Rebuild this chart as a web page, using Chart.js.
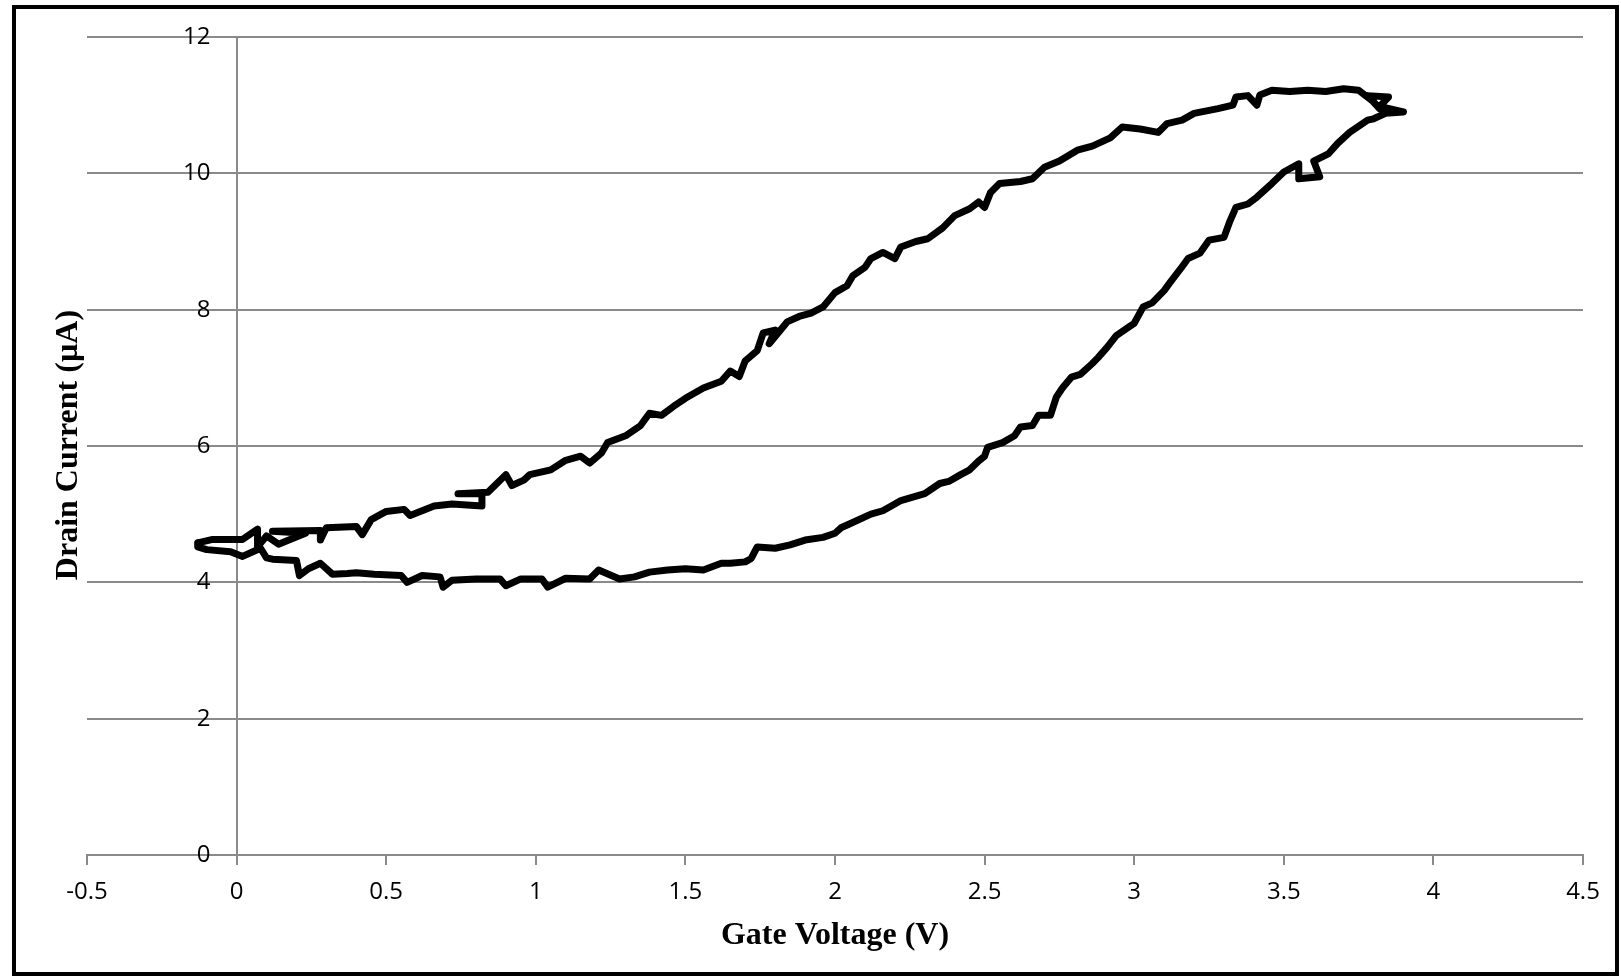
<!DOCTYPE html>
<html>
<head>
<meta charset="utf-8">
<script src="https://cdn.jsdelivr.net/npm/chart.js@4"></script>
<style>
  html, body { margin: 0; padding: 0; background: #fff; }
  #wrap { position: relative; width: 1621px; height: 978px; }
  #frame { position: absolute; left: 12px; top: 5px; width: 1607px; height: 971px; border: 4px solid #000; box-sizing: border-box; pointer-events: none; }
</style>
</head>
<body>
<div id="wrap">
  <canvas id="c" width="1621" height="978"></canvas>
  <div id="frame"></div>
</div>
<script>
// gate voltage sweep (V), going round the loop
const gateV = [
  -0.13, -0.08, 0.02, 0.07, 0.07, 0.10, 0.14, 0.23, 0.12, 0.28, 0.28, 0.30, 0.40, 0.42, 0.45, 0.50,
  0.56, 0.58, 0.62, 0.66, 0.72, 0.82, 0.82, 0.74, 0.84, 0.87, 0.90, 0.92, 0.96, 0.98, 1.05, 1.10, 1.15,
  1.18, 1.22, 1.24, 1.30, 1.35, 1.38, 1.42, 1.46, 1.50, 1.56, 1.62, 1.65, 1.68, 1.70, 1.74, 1.76,
  1.80, 1.78, 1.84, 1.88, 1.92, 1.96, 2.00, 2.04, 2.06, 2.10, 2.12, 2.16, 2.20, 2.22, 2.27,
  2.31, 2.36, 2.40, 2.45, 2.48, 2.50, 2.52, 2.55, 2.62, 2.66, 2.70, 2.75, 2.81, 2.86, 2.92,
  2.96, 3.02, 3.08, 3.11, 3.16, 3.20, 3.28, 3.33, 3.34, 3.38, 3.41, 3.42, 3.46, 3.52, 3.58,
  3.64, 3.70, 3.75, 3.80, 3.82, 3.78, 3.85, 3.82, 3.90, 3.84, 3.80,
  // back down the lower branch
  3.78, 3.72, 3.68, 3.65, 3.60, 3.62, 3.55, 3.55, 3.50, 3.46, 3.41, 3.38, 3.34, 3.32, 3.30,
  3.25, 3.22, 3.18, 3.16, 3.12, 3.10, 3.06, 3.03, 3.00, 2.98, 2.94, 2.91, 2.88, 2.86, 2.82,
  2.79, 2.76, 2.74, 2.72, 2.68, 2.66, 2.62, 2.60, 2.56, 2.51, 2.50, 2.48, 2.45, 2.42, 2.38,
  2.35, 2.30, 2.22, 2.20, 2.16, 2.12, 2.05, 2.02, 2.00, 1.96, 1.90, 1.85, 1.80, 1.74, 1.72,
  1.70, 1.65, 1.62, 1.56, 1.50, 1.44, 1.38, 1.33, 1.28, 1.21, 1.18, 1.10, 1.04, 1.02, 0.95,
  0.90, 0.88, 0.80, 0.72, 0.69, 0.68, 0.62, 0.57, 0.55, 0.46, 0.40, 0.37, 0.32, 0.28, 0.24,
  0.21, 0.20, 0.12, 0.10, 0.08, 0.02, -0.02, -0.10, -0.13, -0.13
];
// drain current (µA) at each point above
const drainI = [
  4.58, 4.63, 4.63, 4.78, 4.52, 4.68, 4.56, 4.72, 4.75, 4.76, 4.62, 4.80, 4.82, 4.70, 4.92, 5.04,
  5.07, 4.98, 5.05, 5.12, 5.15, 5.12, 5.30, 5.30, 5.32, 5.45, 5.58, 5.42, 5.50, 5.58, 5.65, 5.79, 5.85,
  5.75, 5.90, 6.05, 6.15, 6.30, 6.48, 6.45, 6.58, 6.70, 6.85, 6.95, 7.10, 7.02, 7.25, 7.40, 7.66,
  7.70, 7.50, 7.82, 7.90, 7.95, 8.04, 8.25, 8.35, 8.50, 8.62, 8.75, 8.84, 8.75, 8.92, 9.00,
  9.04, 9.20, 9.38, 9.48, 9.58, 9.50, 9.72, 9.85, 9.88, 9.92, 10.09, 10.18, 10.34, 10.40, 10.52,
  10.68, 10.65, 10.60, 10.73, 10.78, 10.88, 10.95, 11.00, 11.12, 11.14, 11.00, 11.15, 11.22, 11.20, 11.22,
  11.20, 11.24, 11.22, 11.05, 10.95, 11.14, 11.12, 10.98, 10.90, 10.88, 10.80,
  10.78, 10.60, 10.44, 10.29, 10.18, 9.95, 9.92, 10.14, 10.02, 9.85, 9.65, 9.55, 9.50, 9.30, 9.06,
  9.02, 8.83, 8.75, 8.63, 8.40, 8.28, 8.10, 8.04, 7.80, 7.74, 7.62, 7.45, 7.30, 7.21, 7.05,
  7.01, 6.85, 6.72, 6.45, 6.45, 6.30, 6.28, 6.15, 6.05, 5.98, 5.85, 5.78, 5.65, 5.58, 5.48,
  5.45, 5.30, 5.20, 5.15, 5.05, 5.00, 4.86, 4.80, 4.72, 4.66, 4.62, 4.55, 4.50, 4.52, 4.35,
  4.30, 4.28, 4.28, 4.18, 4.20, 4.18, 4.15, 4.08, 4.05, 4.18, 4.05, 4.06, 3.93, 4.05, 4.05,
  3.95, 4.05, 4.05, 4.03, 3.93, 4.08, 4.10, 4.00, 4.10, 4.12, 4.14, 4.13, 4.12, 4.28, 4.20,
  4.10, 4.32, 4.34, 4.36, 4.50, 4.38, 4.45, 4.48, 4.52, 4.58
];

const xTitle = "Gate Voltage (V)";
const yTitle = "Drain Current (µA)";

const points = gateV.map((v, i) => ({ x: v, y: drainI[i] }));
const gridGray = "#8a8a8a";
const tickFont = { family: "'Open Sans', sans-serif", size: 24 };

// axis titles are drawn by hand, the axes sit inside the plot area
const axisTitles = {
  id: "axisTitles",
  afterDraw(chart) {
    const ctx = chart.ctx;
    ctx.save();
    ctx.fillStyle = "#000";
    ctx.font = "bold 32px 'Liberation Serif', 'Times New Roman', serif";
    ctx.textAlign = "center";
    ctx.textBaseline = "alphabetic";
    ctx.fillText(xTitle, 835, 944);
    ctx.translate(77, 445);
    ctx.rotate(-Math.PI / 2);
    ctx.fillText(yTitle, 0, 0);
    ctx.restore();
  }
};

new Chart(document.getElementById("c"), {
  type: "scatter",
  data: {
    datasets: [{
      data: points,
      showLine: true,
      borderColor: "#000",
      borderWidth: 7,
      borderJoinStyle: "round",
      borderCapStyle: "round",
      pointRadius: 0,
      tension: 0
    }]
  },
  options: {
    responsive: false,
    animation: false,
    layout: { padding: { left: 87, right: 38, top: 37, bottom: 123 } },
    plugins: { legend: { display: false }, tooltip: { enabled: false } },
    scales: {
      x: {
        type: "linear",
        position: { y: 0 },
        min: -0.5, max: 4.5,
        ticks: {
          stepSize: 0.5, color: "#000", font: tickFont, padding: 14,
          callback: v => String(+v.toFixed(1))
        },
        // only the line at 0 is drawn: it is the vertical axis
        grid: {
          color: c => (c.tick && c.tick.value === 0 ? gridGray : "rgba(0,0,0,0)"),
          tickColor: gridGray, lineWidth: 2, tickLength: 9
        },
        border: { color: gridGray, width: 2 }
      },
      y: {
        type: "linear",
        // labels stand a little left of the x = 0 axis line
        position: { x: -0.087 },
        min: 0, max: 12,
        ticks: { stepSize: 2, color: "#000", font: tickFont },
        grid: { color: gridGray, lineWidth: 2, tickLength: 0 },
        border: { display: false }
      }
    }
  },
  plugins: [axisTitles]
});
</script>
</body>
</html>
